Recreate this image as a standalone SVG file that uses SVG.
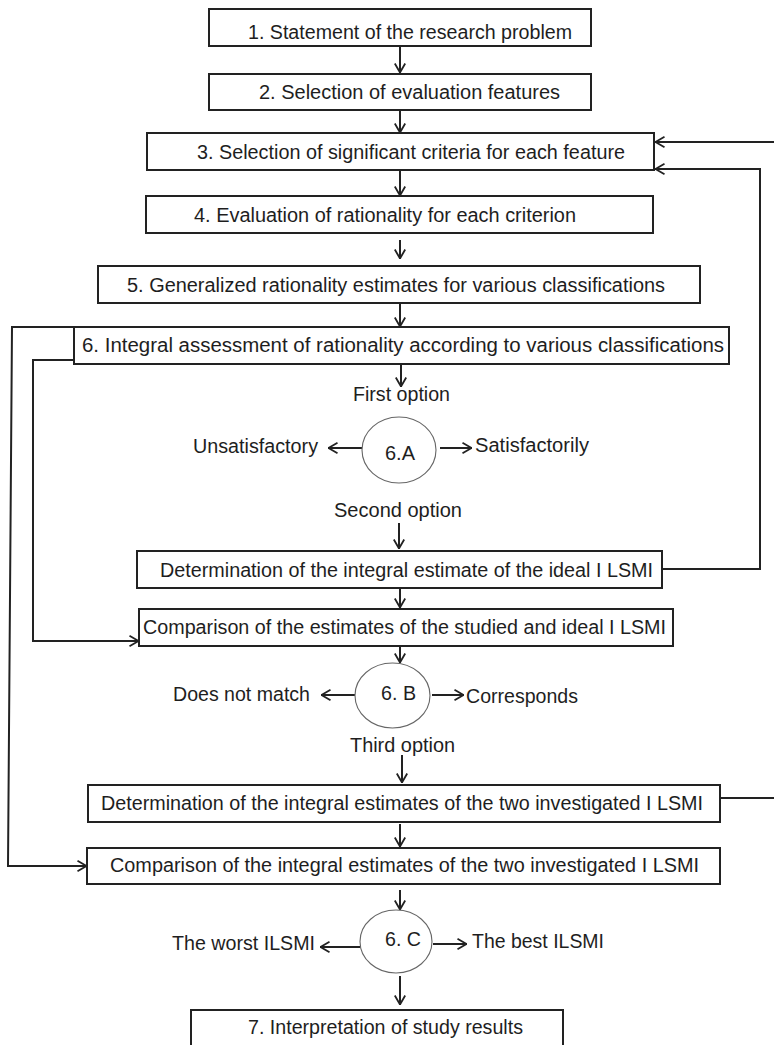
<svg xmlns="http://www.w3.org/2000/svg" width="774" height="1045" viewBox="0 0 774 1045">
<defs>
<style>
.box{fill:#fff;stroke:#222;stroke-width:2}
.circ{fill:#fff;stroke:#666;stroke-width:1.1}
.t{font-family:"Liberation Sans",Arial,sans-serif;font-size:19.5px;fill:#1e1e1e}
.ln{fill:none;stroke:#222;stroke-width:2}
</style>
<marker id="ah" viewBox="0 0 10 12" refX="10" refY="6" markerWidth="10" markerHeight="12" markerUnits="userSpaceOnUse" orient="auto">
<path d="M0.5,0.8 L9.5,6 L0.5,11.2" fill="none" stroke="#222" stroke-width="1.8"/>
</marker>
</defs>
<rect width="774" height="1045" fill="#fff"/>

<g id="connectors">
<path class="ln" d="M400,46 V73" marker-end="url(#ah)"/>
<path class="ln" d="M400,110 V133" marker-end="url(#ah)"/>
<path class="ln" d="M400,170 V196" marker-end="url(#ah)"/>
<path class="ln" d="M400,240 V259" marker-end="url(#ah)"/>
<path class="ln" d="M400,303 V327" marker-end="url(#ah)"/>
<path class="ln" d="M401,364 V387" marker-end="url(#ah)"/>
<path class="ln" d="M362,448 H328" marker-end="url(#ah)"/>
<path class="ln" d="M440,448 H472" marker-end="url(#ah)"/>
<path class="ln" d="M399,523 V549" marker-end="url(#ah)"/>
<path class="ln" d="M400,588 V608" marker-end="url(#ah)"/>
<path class="ln" d="M400,646 V663" marker-end="url(#ah)"/>
<path class="ln" d="M355,695 H321" marker-end="url(#ah)"/>
<path class="ln" d="M432,695 H464" marker-end="url(#ah)"/>
<path class="ln" d="M402,755 V783" marker-end="url(#ah)"/>
<path class="ln" d="M400,824 V847" marker-end="url(#ah)"/>
<path class="ln" d="M400,890 V910" marker-end="url(#ah)"/>
<path class="ln" d="M360,947 H320" marker-end="url(#ah)"/>
<path class="ln" d="M433,944 H467" marker-end="url(#ah)"/>
<path class="ln" d="M400,976 V1005" marker-end="url(#ah)"/>
<path class="ln" d="M775,142 H655" marker-end="url(#ah)"/>
<path class="ln" d="M662,569 H760 V169 H655" marker-end="url(#ah)"/>
<path class="ln" d="M720,798 H775"/>
<path class="ln" d="M74,327 H12 L8,866 H87" marker-end="url(#ah)"/>
<path class="ln" d="M74,360 H33 V641 H139" marker-end="url(#ah)"/>
</g>

<g id="n1"><rect class="box" x="209" y="9" width="382" height="37"/><text class="t" x="248" y="39" textLength="324" lengthAdjust="spacingAndGlyphs">1. Statement of the research problem</text></g>
<g id="n2"><rect class="box" x="209" y="74" width="382" height="36"/><text class="t" x="259" y="99" textLength="301" lengthAdjust="spacingAndGlyphs">2. Selection of evaluation features</text></g>
<g id="n3"><rect class="box" x="147" y="133" width="507" height="37"/><text class="t" x="197" y="159" textLength="428" lengthAdjust="spacingAndGlyphs">3. Selection of significant criteria for each feature</text></g>
<g id="n4"><rect class="box" x="146" y="196" width="507" height="37"/><text class="t" x="194" y="222" textLength="382" lengthAdjust="spacingAndGlyphs">4. Evaluation of rationality for each criterion</text></g>
<g id="n5"><rect class="box" x="98" y="266" width="602" height="37"/><text class="t" x="127" y="292" textLength="538" lengthAdjust="spacingAndGlyphs">5. Generalized rationality estimates for various classifications</text></g>
<g id="n6"><rect class="box" x="74" y="327" width="655" height="37"/><text class="t" x="82" y="352" textLength="642" lengthAdjust="spacingAndGlyphs">6. Integral assessment of rationality according to various classifications</text></g>

<g id="l-first"><text class="t" x="353" y="401" textLength="97" lengthAdjust="spacingAndGlyphs">First option</text></g>
<g id="n6A"><ellipse class="circ" cx="399" cy="450" rx="37" ry="33"/><text class="t" x="385" y="460" textLength="30" lengthAdjust="spacingAndGlyphs">6.A</text></g>
<g id="l-unsat"><text class="t" x="193" y="453" textLength="125" lengthAdjust="spacingAndGlyphs">Unsatisfactory</text></g>
<g id="l-sat"><text class="t" x="475" y="452" textLength="114" lengthAdjust="spacingAndGlyphs">Satisfactorily</text></g>
<g id="l-second"><text class="t" x="334" y="517" textLength="128" lengthAdjust="spacingAndGlyphs">Second option</text></g>

<g id="n-det-ideal"><rect class="box" x="137" y="551" width="525" height="37"/><text class="t" x="160" y="577" textLength="493" lengthAdjust="spacingAndGlyphs">Determination of the integral estimate of the ideal I LSMI</text></g>
<g id="n-comp-ideal"><rect class="box" x="139" y="609" width="534" height="37"/><text class="t" x="143" y="634" textLength="523" lengthAdjust="spacingAndGlyphs">Comparison of the estimates of the studied and ideal I LSMI</text></g>

<g id="n6B"><ellipse class="circ" cx="392.5" cy="695.5" rx="37.5" ry="32.5"/><text class="t" x="381" y="700" textLength="35" lengthAdjust="spacingAndGlyphs">6. B</text></g>
<g id="l-nomatch"><text class="t" x="173" y="701" textLength="137" lengthAdjust="spacingAndGlyphs">Does not match</text></g>
<g id="l-corr"><text class="t" x="466" y="703" textLength="112" lengthAdjust="spacingAndGlyphs">Corresponds</text></g>
<g id="l-third"><text class="t" x="350" y="752" textLength="105" lengthAdjust="spacingAndGlyphs">Third option</text></g>

<g id="n-det-two"><rect class="box" x="88" y="785" width="632" height="37"/><text class="t" x="101" y="810" textLength="602" lengthAdjust="spacingAndGlyphs">Determination of the integral estimates of the two investigated I LSMI</text></g>
<g id="n-comp-two"><rect class="box" x="87" y="848" width="633" height="36"/><text class="t" x="110" y="872" textLength="589" lengthAdjust="spacingAndGlyphs">Comparison of the integral estimates of the two investigated I LSMI</text></g>

<g id="n6C"><ellipse class="circ" cx="396" cy="941.5" rx="36" ry="31.5"/><text class="t" x="385" y="946" textLength="36" lengthAdjust="spacingAndGlyphs">6. C</text></g>
<g id="l-worst"><text class="t" x="172" y="950" textLength="143" lengthAdjust="spacingAndGlyphs">The worst ILSMI</text></g>
<g id="l-best"><text class="t" x="472" y="948" textLength="132" lengthAdjust="spacingAndGlyphs">The best ILSMI</text></g>

<g id="n7"><rect class="box" x="191" y="1010" width="372" height="38"/><text class="t" x="248" y="1034" textLength="275" lengthAdjust="spacingAndGlyphs">7. Interpretation of study results</text></g>
</svg>
